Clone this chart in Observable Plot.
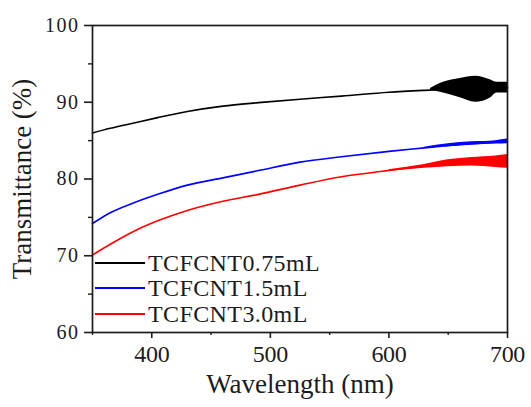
<!DOCTYPE html>
<html>
<head>
<meta charset="utf-8">
<script src="https://cdn.jsdelivr.net/npm/d3@7"></script>
<script src="https://cdn.jsdelivr.net/npm/@observablehq/plot@0.6"></script>
<style>
  html, body { margin: 0; padding: 0; background: #fff; }
  #chart svg { display: block; font-family: "Liberation Serif", "Times New Roman", serif; }
</style>
</head>
<body>
<div id="chart"></div>
<script>
// ---- data ----
const wavelengths = [350, 365, 385, 405, 430, 460, 490, 525, 560, 600, 630, 660, 700];
const seriesNames = ["TCFCNT0.75mL", "TCFCNT1.5mL", "TCFCNT3.0mL"];
const seriesColors = ["#000000", "#0000ff", "#ff0000"];
const t075 = [86.0, 86.6, 87.3, 88.0, 88.8, 89.5, 89.95, 90.4, 90.8, 91.3, 91.55, 91.75, 91.9];
const t15  = [74.2, 75.6, 76.9, 78.0, 79.2, 80.15, 81.1, 82.2, 82.9, 83.6, 84.05, 84.5, 84.85];
const t30  = [70.1, 71.5, 73.2, 74.55, 75.9, 77.1, 78.0, 79.2, 80.3, 81.1, 81.7, 82.1, 82.3];

// noise envelopes (min / max) at the long-wavelength end
const bandWl075 = [635, 646, 660, 673, 686, 691, 700];
const bandLo075 = [91.6, 91.2, 90.6, 90.0, 90.6, 91.2, 91.2];
const bandHi075 = [91.8, 92.6, 93.1, 93.4, 92.9, 92.6, 92.6];
const bandWl15 = [630, 650, 670, 690, 700];
const bandLo15 = [84.0, 84.2, 84.4, 84.55, 84.6];
const bandHi15 = [84.15, 84.6, 84.85, 85.0, 85.2];
const bandWl30 = [600, 630, 650, 670, 690, 700];
const bandLo30 = [81.0, 81.4, 81.6, 81.7, 81.5, 81.4];
const bandHi30 = [81.2, 81.9, 82.5, 82.8, 83.0, 83.2];

const xMajor = [400, 500, 600, 700];
const xMinor = [350, 450, 550, 650];
const yMajor = [60, 70, 80, 90, 100];
const yMinor = [65, 75, 85, 95];

// ---- build tables ----
const values = [t075, t15, t30];
const lineData = seriesNames.flatMap((s, i) => wavelengths.map((w, j) => ({s, wl: w, t: values[i][j]})));
const bands = [
  [bandWl075, bandLo075, bandHi075],
  [bandWl15, bandLo15, bandHi15],
  [bandWl30, bandLo30, bandHi30]
];
const bandData = seriesNames.flatMap((s, i) => bands[i][0].map((w, j) => ({s, wl: w, lo: bands[i][1][j], hi: bands[i][2][j]})));

const ink = "#1c1c1c";
const svg = Plot.plot({
  width: 531,
  height: 407,
  marginLeft: 92,
  marginRight: 24,
  marginTop: 25,
  marginBottom: 75,
  style: {background: "#fff", fontFamily: "Liberation Serif, serif", color: ink},
  x: {domain: [350, 700], label: null},
  y: {domain: [60, 100], label: null},
  color: {domain: seriesNames, range: seriesColors},
  marks: [
    Plot.areaY(bandData, {x: "wl", y1: "lo", y2: "hi", z: "s", fill: "s", curve: "monotone-x"}),
    Plot.line(lineData, {x: "wl", y: "t", z: "s", stroke: "s", strokeWidth: 1.6, curve: "monotone-x"}),
    Plot.frame({stroke: ink, strokeWidth: 1.7}),
    Plot.axisX({ticks: xMajor, tickSize: 6, tickPadding: 6, fontSize: 24, stroke: ink, fill: ink, strokeWidth: 1.6, label: null}),
    Plot.axisX({ticks: xMinor, tickSize: 3, fill: "none", stroke: ink, strokeWidth: 1.4, label: null}),
    Plot.axisY({ticks: yMajor, tickSize: 8, tickPadding: 5, fontSize: 20, stroke: ink, fill: ink, strokeWidth: 1.6, label: null}),
    Plot.axisY({ticks: yMinor, tickSize: 4, fill: "none", stroke: ink, strokeWidth: 1.4, label: null}),
    Plot.text(["Wavelength (nm)"], {frameAnchor: "bottom", textAnchor: "middle", dy: 60, fontSize: 27, fill: ink, ariaLabel: "xtitle"}),
    Plot.text(["Transmittance (%)"], {frameAnchor: "left", textAnchor: "middle", rotate: -90, dx: -70, fontSize: 27, fill: ink, ariaLabel: "ytitle"})
  ]
});

const s = d3.select(svg);
s.selectAll('g[aria-label="x-axis tick label"] text').style("letter-spacing", "-0.3px");
s.selectAll('g[aria-label="y-axis tick label"] text').style("letter-spacing", "1.5px");
s.selectAll('g[aria-label="xtitle"] text, g[aria-label="ytitle"] text').style("letter-spacing", "0.5px");

// legend inside the frame (lower-left)
const legendRows = [263, 288, 314];
const lg = s.append("g").attr("font-size", 24).attr("fill", ink).attr("text-anchor", "start");
seriesNames.forEach((name, i) => {
  lg.append("line").attr("x1", 95).attr("x2", 145).attr("y1", legendRows[i]).attr("y2", legendRows[i])
    .attr("stroke", seriesColors[i]).attr("stroke-width", 1.8);
  lg.append("text").attr("x", 148).attr("y", legendRows[i] + 8).style("letter-spacing", "0.4px").text(name);
});

document.getElementById("chart").appendChild(svg);
</script>
</body>
</html>
